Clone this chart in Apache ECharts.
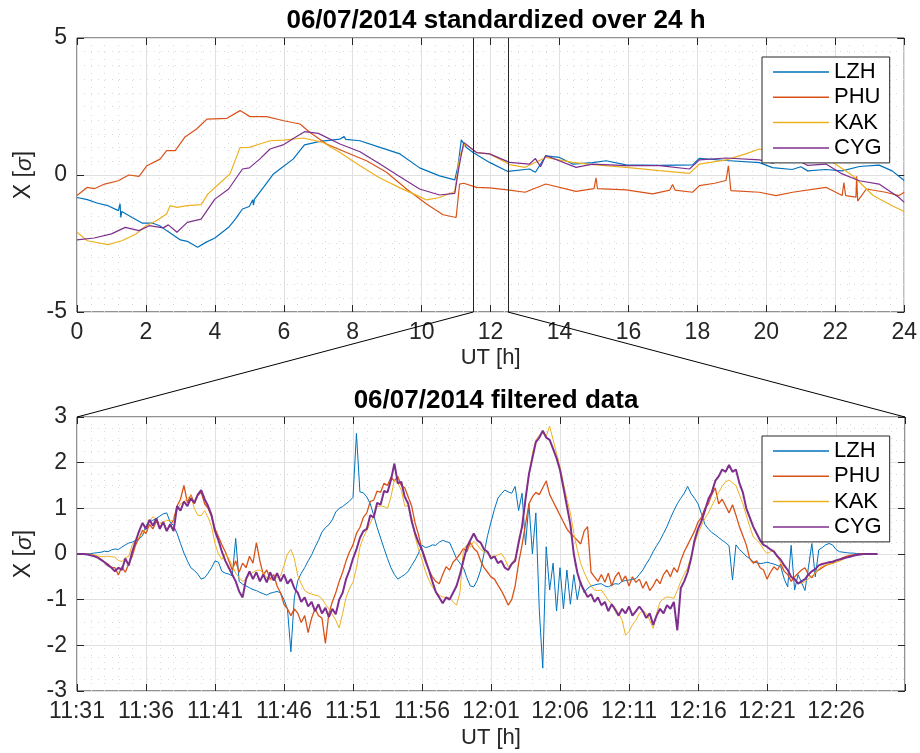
<!DOCTYPE html>
<html><head><meta charset="utf-8">
<script src="https://cdn.jsdelivr.net/npm/echarts@6/dist/echarts.min.js"></script>
<style>html,body{margin:0;padding:0;background:#fff}#c{width:920px;height:753px}</style>
</head><body><div id="c"></div>
<script>
const TITLE_TOP = '06/07/2014 standardized over 24 h';
const TITLE_BOTTOM = '06/07/2014 filtered data';
const STATIONS = ['LZH', 'PHU', 'KAK', 'CYG'];
const COLORS = ['#0072BD', '#D95319', '#EDB120', '#7E2F8E'];
const ZOOM_WINDOW = [11.5, 12.5];
const BOTTOM_TICK_LABELS = ['11:31','11:36','11:41','11:46','11:51','11:56','12:01','12:06','12:11','12:16','12:21','12:26'];
const BOTTOM_STEP_MIN = 0.25;

// top panel: [hour, sigma]
const LZH24 = [[0,-0.82],[0.3,-0.9],[0.6,-1.03],[0.9,-1.12],[1.2,-1.3],[1.25,-1.05],[1.27,-1.55],[1.3,-1.33],[1.6,-1.55],[1.9,-1.76],[2.2,-1.76],[2.4,-1.85],[2.6,-2.03],[3.0,-2.37],[3.2,-2.42],[3.5,-2.64],[3.75,-2.45],[4.0,-2.3],[4.4,-1.91],[4.6,-1.6],[4.8,-1.24],[5.0,-1.15],[5.1,-0.9],[5.12,-1.1],[5.15,-0.88],[5.41,-0.45],[5.7,0.04],[5.89,0.22],[6.27,0.58],[6.6,1.1],[7.05,1.23],[7.63,1.31],[7.75,1.4],[7.8,1.3],[8.21,1.25],[8.79,1.01],[9.37,0.77],[9.94,0.26],[10.52,-0.03],[10.96,-0.18],[11.05,0.3],[11.15,1.28],[11.3,1.0],[11.49,0.82],[11.97,0.46],[12.5,0.13],[13.13,0.22],[13.3,0.1],[13.6,0.7],[14.0,0.64],[14.38,0.4],[14.96,0.45],[15.35,0.52],[15.93,0.37],[16.9,0.35],[17.86,0.37],[18.06,0.61],[18.83,0.53],[19.8,0.45],[20.18,0.27],[20.75,0.2],[21.0,0.3],[21.2,0.15],[21.72,0.2],[22.2,0.15],[22.7,0.31],[23.27,0.36],[23.65,0.15],[24,-0.2]];
const PHU24 = [[0,-0.75],[0.3,-0.45],[0.5,-0.5],[0.8,-0.33],[1.2,-0.21],[1.5,0],[1.8,-0.05],[2.03,0.34],[2.41,0.58],[2.6,0.89],[2.85,0.89],[3.14,1.4],[3.47,1.68],[3.77,2.04],[4.35,2.07],[4.73,2.35],[5.02,2.13],[5.5,2.13],[6.0,1.98],[6.47,1.86],[6.76,1.55],[7.24,1.13],[7.82,0.82],[8.4,0.52],[8.98,0.1],[9.56,-0.51],[10.14,-1.06],[10.62,-1.45],[11.0,-1.55],[11.1,-0.33],[11.22,-0.3],[11.59,-0.45],[11.97,-0.47],[12.55,-0.55],[13.0,-0.63],[13.6,-0.33],[14.48,-0.6],[15.0,-0.5],[15.06,-0.1],[15.1,-0.5],[15.93,-0.54],[16.7,-0.69],[17.2,-0.55],[17.28,-0.35],[17.35,-0.55],[17.86,-0.63],[18.06,-0.39],[18.5,-0.3],[18.83,-0.2],[18.9,0.34],[18.97,-0.57],[19.8,-0.63],[20.28,-0.75],[20.76,-0.63],[21.73,-0.45],[22.2,-0.75],[22.25,-0.28],[22.3,-0.75],[22.6,-0.81],[22.62,-0.05],[22.65,-0.95],[22.9,-0.51],[23.46,-0.63],[23.85,-0.75],[24,-0.63]];
const KAK24 = [[0,-2.09],[0.3,-2.4],[0.9,-2.54],[1.3,-2.4],[1.7,-2.16],[2.0,-1.85],[2.3,-1.67],[2.6,-1.42],[2.7,-1.12],[2.9,-1.18],[3.2,-1.12],[3.6,-1.08],[3.8,-0.69],[4.06,-0.39],[4.44,0.04],[4.73,1.0],[5.0,1.01],[5.3,1.13],[5.6,1.25],[6.0,1.27],[6.56,1.35],[7.14,1.19],[7.63,0.82],[8.21,0.34],[8.79,-0.11],[9.37,-0.47],[9.94,-0.79],[10.14,-0.91],[10.52,-0.82],[10.96,-0.6],[11.1,0.64],[11.25,1.15],[11.59,0.82],[11.97,0.77],[12.55,0.38],[13.0,0.28],[13.6,0.64],[14.38,0.46],[14.96,0.38],[15.93,0.28],[16.9,0.16],[17.77,0.06],[18.06,0.4],[18.83,0.55],[19.4,0.77],[19.8,0.95],[20.18,0.83],[20.76,0.71],[21.53,0.71],[22.0,0.4],[22.5,-0.02],[23.1,-0.75],[23.65,-1.12],[24,-1.33]];
const CYG24 = [[0,-2.37],[0.5,-2.3],[1.0,-2.15],[1.4,-1.91],[1.8,-2.03],[2.1,-1.85],[2.5,-1.93],[2.65,-1.82],[2.9,-2.09],[3.2,-1.73],[3.6,-1.61],[4.0,-0.88],[4.4,-0.51],[4.8,0.22],[5.0,0.26],[5.3,0.58],[5.6,0.95],[6.0,1.11],[6.3,1.35],[6.6,1.58],[7.0,1.52],[7.63,1.13],[8.21,0.85],[8.79,0.4],[9.37,-0.06],[9.94,-0.51],[10.52,-0.73],[10.96,-0.67],[11.08,0.28],[11.22,1.19],[11.59,0.82],[11.97,0.77],[12.55,0.46],[13.13,0.4],[13.3,0.6],[13.45,0.3],[13.6,0.71],[14.48,0.28],[14.96,0.4],[15.93,0.34],[16.9,0.34],[17.77,0.22],[18.06,0.55],[18.83,0.62],[19.8,0.55],[20.18,0.43],[20.76,0.64],[21.2,0.35],[21.73,0.4],[22.2,0.04],[22.7,-0.21],[23.27,-0.33],[23.85,-0.82],[24,-1.0]];

// bottom panel: one value every BOTTOM_STEP_MIN minutes from 11:31
const LZH_F = [0,0,0,0,0.01,0.02,0.03,0.04,0.06,0.05,0.09,0.11,0.1,0.15,0.2,0.24,0.26,0.3,0.33,0.4,
0.62,0.7,0.74,0.78,0.83,0.88,0.9,0.7,0.62,0.45,0.23,0.02,-0.15,-0.3,-0.36,-0.44,-0.55,-0.52,-0.42,-0.3,
-0.15,-0.18,-0.38,-0.42,-0.44,-0.48,0.34,-0.6,-0.66,-0.7,-0.74,-0.78,-0.8,-0.84,-0.87,-0.9,-0.86,-0.84,-0.82,-0.85,
-1.0,-1.2,-2.14,-0.95,-0.58,-0.42,-0.3,-0.15,-0.02,0.15,0.3,0.48,0.58,0.64,0.75,0.92,1.0,1.04,1.1,1.16,
1.24,2.64,1.36,1.34,1.25,1.1,0.85,0.58,0.35,0.12,-0.1,-0.3,-0.45,-0.55,-0.5,-0.45,-0.38,-0.25,-0.13,0.02,
0.19,0.14,0.16,0.2,0.19,0.26,0.3,0.27,0.25,0.08,-0.1,-0.2,-0.3,-0.52,-0.7,-0.72,-0.58,-0.35,0.02,0.4,
0.7,0.98,1.22,1.32,1.4,1.36,1.33,1.48,0.95,1.33,0.2,1.1,0.0,0.9,-1.23,-2.5,0.16,-0.79,-0.2,-1.25,
-0.3,-1.2,-0.35,-1.1,-0.45,-1.0,-0.6,-0.85,-0.75,-0.7,-0.68,-0.66,-0.65,-0.7,-0.72,-0.68,-0.65,-0.66,-0.6,-0.58,
-0.57,-0.56,-0.54,-0.45,-0.35,-0.22,-0.1,0.05,0.18,0.3,0.45,0.6,0.78,0.95,1.1,1.22,1.33,1.48,1.32,1.22,
1.1,0.88,0.65,0.55,0.47,0.42,0.36,0.3,0.25,0.18,-0.57,0.2,0.1,0.03,-0.05,-0.1,-0.17,-0.19,-0.21,-0.2,
-0.18,-0.2,-0.22,-0.25,-0.28,-0.55,-0.72,0.19,-0.79,-0.45,-0.62,-0.8,-0.3,0.23,-0.5,0.09,0.14,0.2,0.23,0.2,
0.1,0.05,0.04,0.03,0.02,0.02,0.01,0.01,0,0,0,0,0];
const PHU_F = [0,0,0,-0.01,-0.02,-0.04,-0.07,-0.12,-0.18,-0.22,-0.3,-0.3,-0.46,-0.28,-0.4,-0.22,-0.05,0.2,0.35,0.52,
0.45,0.65,0.55,0.72,0.58,0.7,0.52,0.62,0.75,1.05,1.2,1.5,1.12,1.3,1.1,1.28,1.35,1.1,1.0,0.82,
0.55,0.38,0.2,0.05,-0.15,-0.35,-0.15,-0.4,-0.2,-0.3,-0.05,-0.2,0.25,-0.15,-0.45,-0.35,-0.55,-0.45,-0.7,-0.85,
-1.1,-1.2,-1.35,-1.2,-1.3,-1.5,-1.35,-1.72,-1.4,-1.2,-1.35,-1.4,-1.96,-1.3,-1.05,-0.85,-0.6,-0.4,-0.15,0.05,
0.2,0.45,0.58,0.8,0.9,1.15,1.18,1.38,1.35,1.55,1.5,1.68,1.6,1.7,1.5,1.45,1.25,1.05,0.68,0.42,
0.1,-0.1,-0.35,-0.5,-0.6,-0.65,-0.45,-0.28,-0.35,-0.18,-0.1,0.0,0.12,0.05,0.25,0.12,0.05,-0.15,-0.3,-0.4,
-0.5,-0.55,-0.68,-0.8,-0.95,-1.12,-1.0,-0.7,-0.2,0.2,0.65,1.1,1.25,1.35,1.3,1.45,1.6,1.3,1.15,1.0,
0.85,0.7,0.55,0.45,0.38,0.3,0.22,0.5,0.6,-0.4,-0.5,-0.6,-0.45,-0.62,-0.42,-0.7,-0.5,-0.4,-0.6,-0.48,
-0.7,-0.5,-0.62,-0.55,-0.75,-0.6,-0.8,-0.7,-0.55,-0.65,-0.45,-0.35,-0.5,-0.3,-0.4,-0.15,0.05,0.2,0.35,0.5,
0.7,0.8,1.0,1.1,1.3,1.45,1.1,1.2,1.05,0.9,1.08,0.85,0.6,0.4,0.2,-0.1,-0.2,-0.15,-0.3,-0.35,
-0.55,-0.4,-0.28,-0.35,-0.22,-0.38,-0.45,-0.6,-0.5,-0.42,-0.35,-0.3,-0.45,-0.52,-0.4,-0.35,-0.3,-0.25,-0.22,-0.2,
-0.15,-0.12,-0.08,-0.05,-0.03,-0.02,-0.01,0,0,0,0,0,0];
const KAK_F = [0,0,0,0,-0.01,-0.02,-0.04,-0.06,-0.05,-0.05,-0.06,-0.07,-0.14,-0.17,-0.08,-0.05,0.2,0.3,0.36,0.45,
0.55,0.7,0.82,0.75,0.67,0.7,0.74,0.72,0.74,0.95,1.1,1.15,1.22,1.28,1.0,0.85,0.84,0.95,0.8,0.6,
0.23,0.0,-0.12,0.0,-0.1,-0.25,-0.42,-0.52,-0.6,-0.55,-0.45,-0.4,-0.36,-0.35,-0.42,-0.52,-0.57,-0.55,-0.52,-0.48,
-0.25,0.0,0.1,-0.1,-0.48,-0.65,-0.8,-0.85,-0.88,-0.9,-0.92,-0.98,-1.1,-1.2,-1.32,-1.45,-1.62,-1.3,-0.95,-0.75,
-0.62,-0.3,0.15,0.36,0.52,0.67,0.85,1.04,1.05,1.04,1.0,1.25,1.62,1.55,1.4,1.05,1.05,0.8,0.38,0.1,
-0.13,-0.38,-0.57,-0.72,-0.83,-0.9,-0.94,-0.95,-0.96,-1.05,-1.12,-0.85,0.1,0.2,0.15,0.28,0.2,0.1,0.05,0.01,
-0.04,-0.06,-0.02,0.01,-0.1,-0.28,-0.2,-0.1,0.2,0.6,1.2,1.75,2.2,2.5,2.6,2.65,2.58,2.8,2.5,2.2,
1.91,1.55,1.2,0.9,0.45,0.1,-0.21,-0.4,-0.57,-0.7,-0.79,-0.8,-0.79,-0.9,-1.01,-1.1,-1.18,-1.3,-1.45,-1.78,
-1.7,-1.55,-1.45,-1.3,-1.25,-1.3,-1.45,-1.63,-1.3,-1.05,-0.98,-0.94,-0.95,-0.97,-0.8,-0.6,-0.45,-0.3,-0.05,0.23,
0.45,0.62,0.78,0.9,1.05,1.2,1.35,1.48,1.58,1.62,1.56,1.5,1.3,1.1,0.85,0.6,0.38,0.3,0.23,0.1,
0.01,0.05,0.09,-0.05,-0.21,-0.28,-0.35,-0.48,-0.57,-0.62,-0.65,-0.6,-0.55,-0.48,-0.42,-0.32,-0.27,-0.24,-0.22,-0.21,
-0.18,-0.16,-0.12,-0.08,-0.06,-0.04,-0.02,-0.01,0,0,0,0,0];
const CYG_F = [0,0,0,-0.01,-0.03,-0.05,-0.08,-0.13,-0.18,-0.25,-0.3,-0.38,-0.3,-0.35,-0.1,-0.25,0.05,0.28,0.5,0.68,
0.55,0.75,0.62,0.78,0.55,0.7,0.5,0.65,0.5,1.05,0.95,1.15,1.05,1.22,1.12,1.3,1.4,1.2,1.05,0.85,
0.5,0.3,0.05,-0.15,-0.3,-0.45,-0.6,-0.82,-0.95,-0.55,-0.38,-0.55,-0.4,-0.6,-0.45,-0.62,-0.4,-0.58,-0.42,-0.6,
-0.45,-0.65,-0.55,-0.75,-0.85,-1.05,-0.95,-1.15,-1.05,-1.25,-1.1,-1.3,-1.18,-1.38,-1.2,-1.32,-1.0,-0.85,-0.55,-0.35,
-0.1,0.1,0.35,0.5,0.55,0.85,0.8,1.12,1.08,1.38,1.35,1.62,1.98,1.55,1.58,1.25,1.1,0.72,0.45,0.25,
0.09,-0.15,-0.35,-0.6,-0.83,-0.95,-1.08,-0.95,-1.0,-0.85,-0.7,-0.45,-0.15,0.15,0.3,0.45,0.3,0.25,0.1,0.05,
-0.1,-0.05,-0.2,-0.15,-0.3,-0.35,-0.22,-0.15,0.25,0.6,1.2,1.75,2.1,2.45,2.55,2.7,2.55,2.5,2.3,2.1,
1.84,1.45,1.05,0.65,0.0,-0.4,-0.65,-0.8,-0.94,-0.88,-1.05,-0.95,-1.12,-1.05,-1.25,-1.1,-1.22,-1.35,-1.2,-1.3,
-1.15,-1.35,-1.25,-1.15,-1.25,-1.4,-1.3,-1.55,-1.35,-1.2,-1.3,-1.12,-1.2,-1.05,-1.67,-0.75,-0.6,-0.4,-0.1,0.3,
0.55,0.72,0.95,1.2,1.35,1.6,1.7,1.85,1.8,1.95,1.8,1.85,1.55,1.35,1.0,0.8,0.6,0.45,0.3,0.2,
0.16,0.1,0.05,-0.05,-0.13,-0.25,-0.35,-0.5,-0.55,-0.65,-0.6,-0.55,-0.45,-0.38,-0.33,-0.25,-0.22,-0.2,-0.18,-0.17,
-0.14,-0.12,-0.1,-0.08,-0.06,-0.04,-0.02,-0.01,0,0,0,0,0];

const FONT = "'Liberation Sans', Arial, Helvetica, sans-serif";
const INK = '#262626';
const TOP_SERIES = [LZH24, PHU24, KAK24, CYG24];
const BOTTOM_SERIES = [LZH_F, PHU_F, KAK_F, CYG_F];
const MINOR_LINE = {color: '#d9d9d9', width: 1, type: [1, 6]};

const chart = echarts.init(document.getElementById('c'), null, {renderer: 'canvas'});

function mkX(grid, min, max, interval, minorN, fmt, name, gap) {
  return {
    type: 'value', gridIndex: grid, min, max, interval, position: 'bottom',
    name, nameLocation: 'middle', nameGap: gap,
    nameTextStyle: {fontFamily: FONT, fontSize: 22, color: INK},
    axisLine: {show: false, onZero: false},
    axisTick: {show: true, inside: true, length: 7, lineStyle: {color: INK}},
    axisLabel: {fontFamily: FONT, fontSize: 23, color: INK, margin: 9, formatter: fmt, showMaxLabel: true, showMinLabel: true},
    splitLine: {show: true, lineStyle: {color: '#e0e0e0', width: 1}},
    minorTick: {show: false, splitNumber: minorN},
    minorSplitLine: {show: true, lineStyle: MINOR_LINE}
  };
}
function mkY(grid, min, max, interval, minorN) {
  return {
    type: 'value', gridIndex: grid, min, max, interval, position: 'left',
    name: 'X [{i|σ}]', nameLocation: 'middle', nameGap: 38,
    nameTextStyle: {fontFamily: FONT, fontSize: 23, color: INK,
      rich: {i: {fontFamily: FONT, fontSize: 23, color: INK, fontStyle: 'italic'}}},
    axisLine: {show: false, onZero: false},
    axisTick: {show: true, inside: true, length: 7, lineStyle: {color: INK}},
    axisLabel: {fontFamily: FONT, fontSize: 23, color: INK, margin: 10},
    splitLine: {show: true, lineStyle: {color: '#e0e0e0', width: 1}},
    minorTick: {show: false, splitNumber: minorN},
    minorSplitLine: {show: true, lineStyle: MINOR_LINE}
  };
}
function mirror(grid, min, max, interval, pos) {
  return {
    type: 'value', gridIndex: grid, min, max, interval, position: pos,
    axisLine: {show: false, onZero: false}, axisLabel: {show: false}, splitLine: {show: false},
    axisTick: {show: true, inside: true, length: 7, lineStyle: {color: INK}}
  };
}

const xAxes = [
  mkX(0, 0, 24, 2, 5, v => String(v), 'UT [h]', 35),
  mkX(1, 0, 60, 5, 5, v => { const k = Math.round(v / 5); return (k < BOTTOM_TICK_LABELS.length) ? BOTTOM_TICK_LABELS[k] : ''; }, 'UT [h]', 36),
  mirror(0, 0, 24, 2, 'top'),
  mirror(1, 0, 60, 5, 'top')
];
const yAxes = [
  mkY(0, -5, 5, 5, 10),
  mkY(1, -3, 3, 1, 4),
  mirror(0, -5, 5, 5, 'right'),
  mirror(1, -3, 3, 1, 'right')
];

const series = [];
STATIONS.forEach((name, i) => {
  const s = {
    name, type: 'line', xAxisIndex: 0, yAxisIndex: 0, data: TOP_SERIES[i],
    showSymbol: false, symbol: 'none', animation: false, z: 3,
    lineStyle: {color: COLORS[i], width: 1.2}, itemStyle: {color: COLORS[i]}
  };
  if (i === 0) {
    s.markLine = {
      symbol: 'none', silent: true, animation: false, label: {show: false},
      lineStyle: {color: INK, width: 1, type: 'solid'},
      data: [{xAxis: ZOOM_WINDOW[0]}, {xAxis: ZOOM_WINDOW[1]}]
    };
  }
  series.push(s);
});
const BOTTOM_WIDTHS = [1, 1.3, 1, 2];
STATIONS.forEach((name, i) => {
  series.push({
    name, type: 'line', xAxisIndex: 1, yAxisIndex: 1,
    data: BOTTOM_SERIES[i].map((v, k) => [k * BOTTOM_STEP_MIN, v]),
    showSymbol: false, symbol: 'none', animation: false, z: 3,
    lineStyle: {color: COLORS[i], width: BOTTOM_WIDTHS[i]}, itemStyle: {color: COLORS[i]}
  });
});

function mkLegend(top) {
  return {
    data: STATIONS, orient: 'vertical', left: 762, top,
    padding: [4, 8, 4, 11], itemGap: 3.3, itemWidth: 56, itemHeight: 1.5, icon: 'rect',
    backgroundColor: '#ffffff', borderColor: INK, borderWidth: 1, borderRadius: 0,
    textStyle: {fontFamily: FONT, fontSize: 22, color: '#000', lineHeight: 20},
    selectedMode: false, z: 10
  };
}

chart.setOption({
  animation: false,
  backgroundColor: '#ffffff',
  title: [
    {text: TITLE_TOP, left: 491, top: 3, textAlign: 'center',
      textStyle: {fontFamily: FONT, fontSize: 26, fontWeight: 'bold', color: '#000'}},
    {text: TITLE_BOTTOM, left: 491, top: 383, textAlign: 'center',
      textStyle: {fontFamily: FONT, fontSize: 26, fontWeight: 'bold', color: '#000'}}
  ],
  grid: [
    {left: 77, right: 15, top: 38, height: 274, show: true, borderColor: INK, borderWidth: 1, backgroundColor: '#fff'},
    {left: 77, right: 15, top: 417, height: 274, show: true, borderColor: INK, borderWidth: 1, backgroundColor: '#fff'}
  ],
  legend: [mkLegend(57), mkLegend(436)],
  xAxis: xAxes,
  yAxis: yAxes,
  series
});

// connector lines from the zoom window in the top panel to the bottom panel corners
const a = chart.convertToPixel({xAxisIndex: 0, yAxisIndex: 0}, [ZOOM_WINDOW[0], -5]);
const b = chart.convertToPixel({xAxisIndex: 0, yAxisIndex: 0}, [ZOOM_WINDOW[1], -5]);
const c = chart.convertToPixel({xAxisIndex: 1, yAxisIndex: 1}, [0, 3]);
const d = chart.convertToPixel({xAxisIndex: 1, yAxisIndex: 1}, [60, 3]);
chart.setOption({
  graphic: [
    {type: 'line', shape: {x1: a[0], y1: a[1], x2: c[0], y2: c[1]}, style: {stroke: '#000', lineWidth: 1}, silent: true, z: 20},
    {type: 'line', shape: {x1: b[0], y1: b[1], x2: d[0], y2: d[1]}, style: {stroke: '#000', lineWidth: 1}, silent: true, z: 20}
  ]
});
</script>
</body></html>
